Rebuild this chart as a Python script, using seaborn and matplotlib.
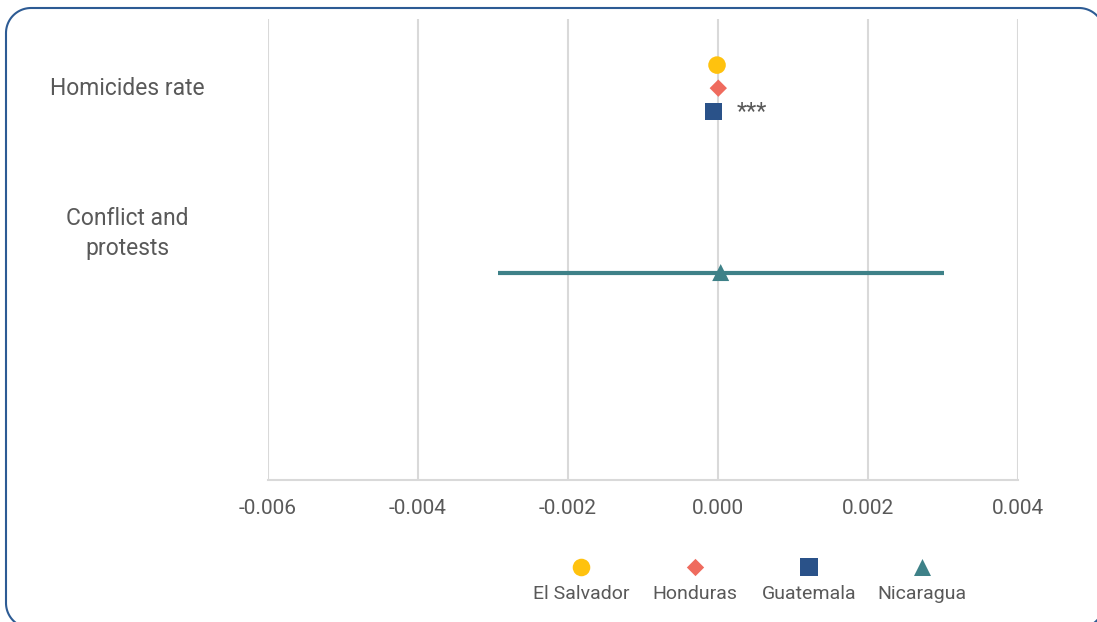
import matplotlib
matplotlib.use("Agg")
import matplotlib.pyplot as plt
import seaborn as sns
import pandas as pd
import numpy as np
from matplotlib.lines import Line2D

# Estimated coefficients by country, with confidence interval where reported
countries = ["El Salvador", "Honduras", "Guatemala", "Nicaragua"]
coefficients = [-0.000013, 0.000004, -0.000062, 0.000036]
ci_low = [None, None, None, -0.00293]
ci_high = [None, None, None, 0.00301]
significance = ["", "", "***", ""]

variables = ["Homicides rate", "Conflict and\nprotests"]
x_ticks = [-0.006, -0.004, -0.002, 0.000, 0.002, 0.004]
x_tick_labels = ["-0.006", "-0.004", "-0.002", "0.000", "0.002", "0.004"]

# Styling
colors = {"El Salvador": "#FFC20E", "Honduras": "#EF6B5E",
          "Guatemala": "#2A5289", "Nicaragua": "#3E8188"}
markers = {"El Salvador": "o", "Honduras": "D", "Guatemala": "s", "Nicaragua": "^"}
marker_area = {"El Salvador": 160, "Honduras": 78, "Guatemala": 150, "Nicaragua": 150}
row_pos = [9.0, 8.5, 8.0, 4.5]
label_pos = [8.55, 5.47]

TEXT = "#595959"
GRID = "#D9D9D9"
BORDER = "#2D5B94"

sns.set_theme(style="white")
plt.rcParams["font.family"] = ["Roboto", "DejaVu Sans"]

df = pd.DataFrame({"country": countries, "coef": coefficients, "row": row_pos,
                   "lo": ci_low, "hi": ci_high, "sig": significance})

W, H = 1097, 622
fig = plt.figure(figsize=(W / 100, H / 100), dpi=100)
fig.patch.set_facecolor("white")
ax = fig.add_axes([268 / W, 1 - 480 / H, 750 / W, 461 / H])

# Confidence interval bars
ci = df.dropna(subset=["lo", "hi"])
ax.hlines(ci["row"], ci["lo"], ci["hi"], colors=[colors[c] for c in ci["country"]],
          linewidth=3, zorder=2)

sns.scatterplot(data=df, x="coef", y="row", hue="country", style="country",
                size="country", sizes=marker_area, palette=colors, markers=markers,
                linewidth=0, legend=False, ax=ax, zorder=3)

for _, r in df.iterrows():
    if r["sig"]:
        ax.annotate(r["sig"], (r["coef"], r["row"]), xytext=(17, 0),
                    textcoords="offset points", ha="left", va="center",
                    color=TEXT, fontsize=17)

ax.set_xlim(-0.006, 0.004)
ax.set_ylim(0, 10)
ax.set_xticks(x_ticks, x_tick_labels)
ax.set_yticks(label_pos, variables)
ax.set_xlabel("")
ax.set_ylabel("")
ax.grid(axis="x", color=GRID, linewidth=1.5)
ax.grid(axis="y", visible=False)
for side in ["top", "right", "left"]:
    ax.spines[side].set_visible(False)
ax.spines["bottom"].set_color(GRID)
ax.spines["bottom"].set_linewidth(1.5)
ax.tick_params(axis="x", direction="out", length=6, width=1.5, color=GRID,
               labelcolor=TEXT, labelsize=15, pad=8)
ax.tick_params(axis="y", length=0, labelcolor=TEXT, labelsize=16.5, pad=101)
for t in ax.get_yticklabels():
    t.set_horizontalalignment("center")
    t.set_multialignment("center")
    t.set_linespacing(1.35)

# Overlay in pixel coordinates (origin top-left) for legend and frame
ov = fig.add_axes([0, 0, 1, 1], zorder=5)
ov.set_xlim(0, W)
ov.set_ylim(H, 0)
ov.axis("off")
ov.patch.set_alpha(0)

leg_x = [581, 695, 809, 922]
for c, x in zip(countries, leg_x):
    ov.scatter([x], [567], marker=markers[c], s=marker_area[c], color=colors[c],
               linewidths=0)
    ov.text(x, 599, c, ha="center", va="baseline", color=TEXT, fontsize=14)


def rounded_outline(left, top, right, bottom, radius, n=24):
    """Closed outline of a rounded rectangle, y growing downward."""
    xs, ys = [], []
    corners = [(right - radius, top + radius, -90, 0),
               (right - radius, bottom - radius, 0, 90),
               (left + radius, bottom - radius, 90, 180),
               (left + radius, top + radius, 180, 270)]
    for cx, cy, a0, a1 in corners:
        t = np.radians(np.linspace(a0, a1, n))
        xs.extend(cx + radius * np.cos(t))
        ys.extend(cy + radius * np.sin(t))
    xs.append(xs[0])
    ys.append(ys[0])
    return xs, ys


fx, fy = rounded_outline(6, 8, 1104, 628, 25)
ov.add_line(Line2D(fx, fy, color=BORDER, linewidth=1.5, clip_on=False,
                   solid_joinstyle="round"))

fig.savefig("out.png", dpi=100)
